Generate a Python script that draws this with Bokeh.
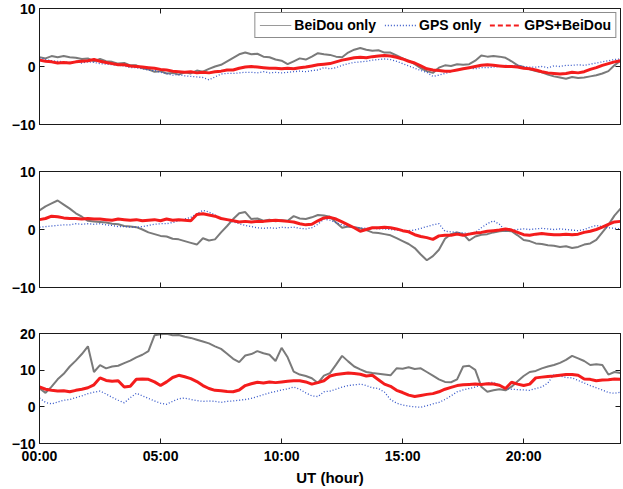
from bokeh.plotting import figure
from bokeh.layouts import column
from bokeh.models import Range1d, FixedTicker, LinearAxis, Legend, LegendItem
from bokeh.embed import file_html
from bokeh.resources import INLINE

# time stamps (hours UT), every 15 minutes
hours = [i * 0.25 for i in range(97)]

# ---------------- panel 1 ----------------
p1_beidou = [
    1.6, 1.4, 1.8, 1.6, 1.8, 1.6, 1.5, 1.3,
    1.4, 0.9, 1.3, 0.9, 0.8, 0.5, 0.6, 0.2,
    0.2, -0.3, -0.5, -0.9, -0.8, -1.2, -1.1, -1.4,
    -1.0, -1.2, -0.7, -0.9, -0.4, 0.0, 0.3, 0.9,
    1.5, 2.1, 2.4, 2.1, 2.2, 1.7, 1.6, 1.2,
    1.0, 0.4, 0.9, 1.4, 1.2, 1.7, 2.3, 2.1,
    2.0, 1.7, 1.6, 2.4, 2.9, 3.2, 2.9, 2.7,
    2.8, 2.4, 2.4, 1.9, 1.4, 1.0, 0.4, -0.3,
    -0.8, -1.1, -0.2, 0.2, 0.1, 0.4, 0.3, 0.4,
    1.0, 1.9, 1.7, 1.8, 1.7, 1.5, 0.9, 0.2,
    -0.1, -0.5, -0.8, -1.0, -1.4, -1.7, -1.9, -2.1,
    -1.8, -2.0, -1.9, -1.7, -1.5, -1.2, -0.8, 0.2,
    1.0]
p1_gps = [
    1.5, 1.2, 1.0, 0.9, 0.8, 0.7, 0.8, 0.6,
    0.8, 0.7, 0.5, 0.4, 0.3, 0.2, 0.1, -0.2,
    -0.2, -0.4, -0.6, -0.7, -1.0, -1.2, -1.5, -1.4,
    -1.6, -1.7, -1.8, -1.9, -2.3, -1.8, -1.3, -1.2,
    -1.2, -1.1, -1.0, -1.0, -1.1, -0.9, -1.1, -1.0,
    -1.1, -1.0, -0.9, -0.8, -0.9, -0.7, -0.6, -0.2,
    -0.4, -0.2, 0.2, 0.5, 0.7, 0.8, 0.9, 1.1,
    1.2, 1.3, 1.2, 0.9, 0.5, 0.1, -0.3, -0.7,
    -1.0, -1.7, -1.5, -1.2, -0.9, -0.6, -0.4, -0.3,
    -0.4, -0.2, -0.2, -0.1, 0.0, 0.2, 0.1, 0.2,
    0.0, -0.1, -0.1, 0.0, -0.2, 0.1, 0.0, 0.2,
    0.2, 0.3, 0.2, 0.4, 0.6, 0.8, 1.0, 1.2,
    1.3]
p1_both = [
    1.1, 0.9, 0.8, 0.6, 0.7, 0.6, 0.8, 0.9,
    1.0, 1.2, 0.9, 0.7, 0.5, 0.3, 0.3, 0.1,
    0.0, -0.1, -0.2, -0.3, -0.5, -0.6, -0.8, -0.9,
    -1.0, -0.9, -1.1, -1.0, -1.1, -0.9, -0.8, -0.6,
    -0.6, -0.3, -0.1, 0.0, -0.1, -0.2, -0.3, -0.3,
    -0.4, -0.3, -0.4, -0.2, -0.1, 0.1, 0.3, 0.4,
    0.5, 0.8, 1.1, 1.3, 1.5, 1.6, 1.5, 1.7,
    1.8, 1.9, 1.8, 1.6, 1.3, 0.9, 0.6, 0.1,
    -0.4, -0.6, -0.7, -0.8, -0.8, -0.6, -0.4, -0.2,
    0.0, 0.2, 0.3, 0.2, 0.1, 0.0, 0.0, -0.1,
    -0.3, -0.4, -0.6, -0.9, -1.1, -1.2, -1.3, -1.2,
    -1.0, -1.1, -0.9, -0.5, -0.2, 0.2, 0.5, 0.8,
    1.0]

# ---------------- panel 2 ----------------
p2_beidou = [
    3.3, 4.0, 4.5, 5.0, 4.3, 3.6, 2.8, 2.2,
    1.5, 1.4, 1.3, 1.2, 1.0, 0.9, 0.6, 0.5,
    0.4, 0.0, -0.5, -0.8, -1.1, -1.2, -1.6, -1.7,
    -2.0, -2.3, -2.6, -1.5, -1.9, -1.7, -0.5, 0.6,
    1.8, 2.8, 3.0, 1.8, 1.9, 1.5, 1.7, 1.4,
    1.6, 1.5, 2.3, 1.9, 1.8, 2.1, 2.5, 2.4,
    2.2, 1.2, 0.3, 0.5, 0.4, 0.2, -0.1, -0.5,
    -0.6, -0.8, -1.0, -1.5, -2.0, -2.5, -3.2, -4.3,
    -5.3, -4.6, -3.5, -1.6, -0.8, -0.5, -0.8, -1.9,
    -1.2, -0.9, -0.8, -0.5, -0.3, -0.2, -0.3, -1.0,
    -1.8, -2.0, -2.4, -2.5, -2.7, -2.8, -3.0, -2.9,
    -3.2, -3.0, -2.6, -2.4, -1.8, -0.5, 0.8, 2.4,
    3.6]
p2_gps = [
    0.4, 0.5, 0.6, 0.7, 0.8, 0.8, 1.0, 0.9,
    1.0, 0.9, 1.0, 0.8, 0.7, 0.5, 0.5, 0.4,
    0.4, 0.5, 0.7, 0.9, 1.0, 1.0, 1.2, 1.5,
    1.8, 2.1, 2.7, 3.3, 3.0, 2.5, 2.0, 1.6,
    1.3, 1.0, 0.7, 0.5, 0.3, 0.2, 0.3, 0.2,
    0.4, 0.3, 0.4, 0.2, 0.1, 0.3, 0.9, 1.8,
    1.6, 1.2, 0.8, 0.5, 0.4, 0.3, 0.2, 0.2,
    0.1, 0.1, 0.0, -0.1, -0.2, -0.2, -0.1, 0.2,
    0.5, 0.8, 1.0, -0.3, -0.4, -0.5, -0.6, -0.7,
    -0.5, 0.3, 1.0, 1.5, 0.9, -0.2, -0.1, 0.0,
    0.1, 0.0, 0.1, 0.2, 0.1, 0.0, 0.1, 0.0,
    -0.1, -0.2, 0.0, 0.4, 0.7, 0.5, 0.3, 0.2,
    0.1]
p2_both = [
    1.7, 1.9, 2.3, 2.2, 2.0, 1.9, 1.9, 1.8,
    1.9, 1.8, 1.8, 1.7, 1.6, 1.8, 1.7, 1.6,
    1.7, 1.5, 1.6, 1.7, 1.5, 1.8, 1.6, 1.7,
    1.6, 1.5, 2.6, 2.7, 2.5, 2.3, 1.9, 1.7,
    1.5, 1.3, 1.4, 1.3, 1.4, 1.4, 1.5, 1.6,
    1.5, 1.4, 1.3, 1.0, 0.8, 0.9, 1.5, 2.0,
    2.1, 1.8, 1.3, 0.8, 0.3, -0.3, 0.0, 0.3,
    0.3, 0.4, 0.3, 0.1, -0.2, -0.4, -0.9, -1.2,
    -1.4, -1.7, -1.1, -1.0, -1.0, -0.8, -1.0, -0.8,
    -0.6, -0.5, -0.3, -0.2, -0.1, 0.1, -0.1, -0.5,
    -0.9, -1.0, -0.8, -0.7, -0.8, -0.9, -0.9, -0.8,
    -0.9, -0.8, -0.5, -0.3, 0.0, 0.4, 0.9, 1.3,
    1.4]

# ---------------- panel 3 ----------------
p3_beidou = [
    5.0, 3.8, 5.5, 7.5, 9.0, 11.0, 12.6, 14.4,
    16.5, 9.5, 11.4, 10.5, 11.0, 11.2, 11.9, 12.6,
    13.5, 14.2, 15.2, 19.5, 19.8, 19.9, 19.5, 19.6,
    19.1, 18.8, 18.3, 17.8, 17.3, 16.5, 15.8, 14.5,
    13.1, 12.2, 14.0, 14.4, 15.2, 14.6, 14.2, 12.5,
    16.1, 13.5, 9.6, 8.8, 8.4, 7.8, 6.5, 8.5,
    9.2, 11.5, 13.9, 12.4, 11.0, 10.2, 9.5, 9.2,
    9.0, 8.8, 8.6, 10.5, 10.4, 10.8, 10.3, 10.5,
    9.5, 8.5, 7.5, 6.8, 6.7, 7.5, 11.0, 11.2,
    10.1, 5.5, 4.1, 4.5, 4.8, 4.5, 5.5, 7.0,
    8.4, 9.5, 9.8, 10.5, 11.0, 11.4, 12.0, 12.8,
    13.9, 13.2, 12.5, 11.4, 11.6, 11.4, 8.8, 9.5,
    9.2]
p3_gps = [
    2.4, 1.2, 0.8, 1.3, 1.8, 2.0, 2.5, 3.0,
    3.6, 4.0, 4.3, 3.5, 2.6, 1.8, 1.1, 2.5,
    3.7, 3.0, 2.3, 1.6, 1.0, 0.7, 1.5, 2.2,
    2.4, 2.0, 1.7, 1.5, 1.6, 1.5, 1.2, 1.5,
    1.6, 1.8, 2.0, 2.3, 2.8, 3.3, 3.8, 4.2,
    4.6, 4.9, 5.4, 4.8, 3.8, 3.0, 2.8, 4.1,
    4.3, 4.8, 5.4, 5.8, 6.0, 6.2, 5.8, 5.2,
    5.0, 4.0, 2.0, 1.0, 0.5, 0.2, 0.0, -0.1,
    0.3, 0.8, 1.2, 2.0, 3.0, 4.1, 4.6, 5.0,
    5.4, 6.0, 6.5, 6.7, 5.8, 5.0, 4.8, 4.7,
    4.6, 4.5, 5.0, 5.4, 6.5, 8.8, 8.4, 8.0,
    7.9, 7.2, 6.5, 5.8, 5.2, 4.6, 3.9, 3.7,
    4.0]
p3_both = [
    5.4, 4.8, 4.5, 4.3, 4.4, 4.1, 4.5, 4.8,
    5.2, 6.0, 7.9, 7.2, 7.0, 7.1, 5.4, 5.6,
    7.5, 7.6, 7.5, 6.8, 5.8, 6.8, 8.0, 8.6,
    8.2, 7.7, 6.9, 5.8, 5.0, 4.5, 4.4, 4.2,
    4.1, 4.6, 5.8, 6.3, 6.7, 6.5, 6.8, 6.6,
    6.8, 7.0, 7.1, 7.1, 6.8, 6.2, 6.6, 7.1,
    8.4, 8.8, 9.0, 9.2, 9.1, 8.9, 8.4, 8.6,
    7.4, 6.2, 5.6, 4.5, 3.9, 3.2, 2.8, 3.1,
    3.4, 3.6, 4.1, 4.8, 5.3, 5.8, 6.0, 6.1,
    6.2, 6.1, 6.3, 6.2, 5.9, 5.0, 6.7, 6.2,
    5.8, 6.2, 7.9, 8.1, 8.3, 8.4, 8.6, 8.8,
    8.8, 8.6, 7.6, 7.5, 7.1, 7.3, 7.4, 7.6,
    7.5]

x_ticks = [0, 5, 10, 15, 20]
x_tick_labels = ["00:00", "05:00", "10:00", "15:00", "20:00"]
legend_labels = ["BeiDou only", "GPS only", "GPS+BeiDou"]

FONT = "Liberation Sans"
EDGE = "#1a1a1a"
GRAY = "#7a7a7a"
BLUE = "#3355c8"
RED = "#f41c1c"


def style_axis(ax, show_labels, ticks):
    ax.ticker = FixedTicker(ticks=ticks)
    ax.axis_line_color = EDGE
    ax.major_tick_line_color = EDGE
    ax.major_tick_in = 5
    ax.major_tick_out = 0
    ax.minor_tick_line_color = None
    if show_labels:
        ax.major_label_text_font = FONT
        ax.major_label_text_font_style = "bold"
        ax.major_label_text_font_size = "14px"
        ax.major_label_text_color = "black"
        ax.major_label_standoff = 4
    else:
        ax.major_label_overrides = {t: "" for t in ticks}
        ax.major_label_standoff = 0


def make_panel(series, ymin, ymax, yticks, height, bt, bb, xlabels):
    p = figure(width=622, height=height, output_backend="svg",
               toolbar_location=None,
               x_range=Range1d(0, 24), y_range=Range1d(ymin, ymax),
               min_border_left=39, min_border_right=2,
               min_border_top=bt, min_border_bottom=bb,
               background_fill_color="white", border_fill_color="white")
    p.grid.visible = False
    p.outline_line_color = EDGE
    p.outline_line_width = 1

    style_axis(p.yaxis[0], True, yticks)
    style_axis(p.xaxis[0], xlabels, x_ticks)
    if xlabels:
        p.xaxis[0].major_label_overrides = dict(zip(x_ticks, x_tick_labels))
        p.xaxis[0].axis_label = "UT (hour)"
        p.xaxis[0].axis_label_text_font = FONT
        p.xaxis[0].axis_label_text_font_style = "bold"
        p.xaxis[0].axis_label_text_font_size = "15px"
        p.xaxis[0].axis_label_text_color = "black"
        p.xaxis[0].axis_label_standoff = 2

    right = LinearAxis()
    style_axis(right, False, yticks)
    p.add_layout(right, "right")
    top = LinearAxis()
    style_axis(top, False, x_ticks)
    p.add_layout(top, "above")

    bd, gp, bo = series
    p.line(hours, bd, line_color=GRAY, line_width=2)
    p.line(hours, gp, line_color=BLUE, line_width=1.3, line_dash="1 2")
    p.line(hours, bo, line_color=RED, line_width=3)
    return p


p1 = make_panel((p1_beidou, p1_gps, p1_both), -10, 10, [-10, 0, 10],
                147, 8, 23, False)
p2 = make_panel((p2_beidou, p2_gps, p2_both), -10, 10, [-10, 0, 10],
                163, 24, 23, False)
p3 = make_panel((p3_beidou, p3_gps, p3_both), -10, 20, [-10, 0, 10, 20],
                178, 23, 38, True)

# legend samples: renderers holding a single NaN point, so only the legend glyph shows
nan = float("nan")
lg1 = p1.line([nan], [nan], line_color="#9a9a9a", line_width=1.2)
lg2 = p1.line([nan], [nan], line_color=BLUE, line_width=1.3, line_dash="1 2")
lg3 = p1.line([nan], [nan], line_color=RED, line_width=2, line_dash="5 3")
legend = Legend(items=[LegendItem(label=legend_labels[0], renderers=[lg1]),
                       LegendItem(label=legend_labels[1], renderers=[lg2]),
                       LegendItem(label=legend_labels[2], renderers=[lg3])],
                location="top_right", orientation="horizontal",
                label_text_font=FONT, label_text_font_style="bold",
                label_text_font_size="14px", label_text_color="black",
                glyph_width=32, glyph_height=14, label_standoff=3,
                spacing=8, padding=4, margin=4,
                border_line_color=EDGE, border_line_width=1,
                background_fill_color="white", background_fill_alpha=1)
p1.add_layout(legend)

layout = column(p1, p2, p3, spacing=0)
open("out.html", "w").write(file_html(layout, INLINE))
